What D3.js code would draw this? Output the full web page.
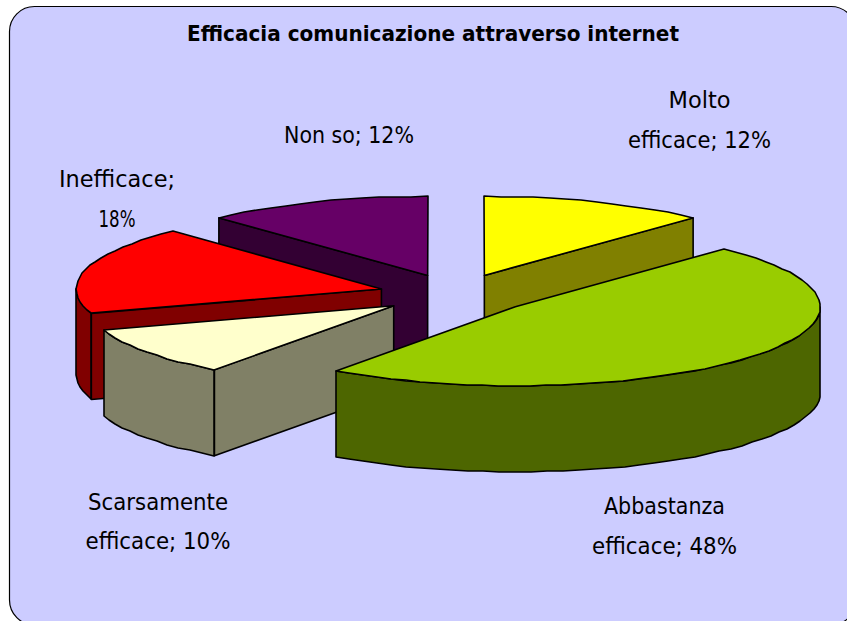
<!DOCTYPE html>
<html><head><meta charset="utf-8">
<style>html,body{margin:0;padding:0;background:#fff;overflow:hidden}svg{display:block}</style>
<script src="https://cdn.jsdelivr.net/npm/d3@7/dist/d3.min.js"></script>
</head><body><div id="c"></div>
<script>
const title = "Efficacia comunicazione attraverso internet";
const categories = ["Molto efficace","Abbastanza efficace","Scarsamente efficace","Inefficace","Non so"];
const values = [12,48,10,18,12];
const colors = ["#FFFF00","#99CC00","#FFFFCC","#FF0000","#660066"];
const labelLines = [["Molto","efficace; 12%"],["Abbastanza","efficace; 48%"],["Scarsamente","efficace; 10%"],["Inefficace;","18%"],["Non so; 12%"]];
const drawOrder = [4,0,3,2,1];

const W=847,H=621;
const svg=d3.select("#c").append("svg").attr("width",W).attr("height",H);
svg.append("path")
  .attr("d","M9.5,31.5 A25,25 0 0 1 34.5,6.5 L831,6.5 A25,25 0 0 1 856,31.5 L856,600 A25,25 0 0 1 831,625 L34.5,625 A25,25 0 0 1 9.5,600 Z")
  .attr("fill","#CCCCFF").attr("stroke","#000").attr("stroke-width",1.2);

const font="'DejaVu Sans Condensed','DejaVu Sans',Verdana,sans-serif";
svg.append("text").attr("x",433).attr("y",41).attr("text-anchor","middle")
  .attr("font-family",font).attr("font-weight","bold").attr("font-size",21).attr("font-stretch","condensed")
  .attr("textLength",492).attr("lengthAdjust","spacingAndGlyphs").text(title);

// pie geometry
const pie=d3.pie().sort(null).value(d=>d)(values);
const rx=305, ry=79, depth=86, cx0=456, cy0=294, ex=77, ey=20;
const deg=Math.PI/180;
const line=d3.line();
function arcPts(c,a0,a1){
  const n=Math.max(1,Math.round((a1-a0)/(3*deg))), pts=[];
  for(let i=0;i<=n;i++){
    const a=a0+(a1-a0)*i/n;
    pts.push([Math.round(c[0]+rx*Math.sin(a)),Math.round(c[1]-ry*Math.cos(a))]);
  }
  return pts;
}
const down=p=>[p[0],p[1]+depth];
function wall(top){return line(top.concat(top.slice().reverse().map(down)))+"Z";}
const shade=c=>{const r=d3.rgb(c);return d3.rgb(r.r/2,r.g/2,r.b/2).formatHex();};

drawOrder.forEach(i=>{
  const s=pie[i], mid=(s.startAngle+s.endAngle)/2;
  const c=[cx0+ex*Math.sin(mid), cy0-ey*Math.cos(mid)];
  const g=svg.append("g").attr("stroke","#000").attr("stroke-width",1.6).attr("stroke-linejoin","round");
  const dark=shade(colors[i]);
  const P=a=>[c[0]+rx*Math.sin(a),c[1]-ry*Math.cos(a)];
  // straight cut walls: visible only when the slice lies above its radial edge
  if(s.startAngle>=Math.PI) g.append("path").attr("d",wall([c,P(s.startAngle)])).attr("fill",dark);
  if(s.endAngle<=Math.PI) g.append("path").attr("d",wall([c,P(s.endAngle)])).attr("fill",dark);
  // outer curved wall on the front half
  const f0=Math.max(s.startAngle,90*deg), f1=Math.min(s.endAngle,270*deg);
  if(f1>f0) g.append("path").attr("d",wall(arcPts(c,f0,f1))).attr("fill",dark);
  // top face
  g.append("path").attr("d",line([c].concat(arcPts(c,s.startAngle,s.endAngle)))+"Z").attr("fill",colors[i]);
});

// labels: [centre x, baselines, widths]
const labelPos=[[699.5,[108,148],[62,143]],[664.5,[514,554],[121,145]],[158,[510,549],[140,145]],[117,[187,227],[116,37]],[349,[143],[130]]];
labelLines.forEach((ls,i)=>{
  ls.forEach((t,j)=>{
    svg.append("text").attr("x",labelPos[i][0]).attr("y",labelPos[i][1][j]).attr("text-anchor","middle")
      .attr("font-family",font).attr("font-size",23).attr("font-stretch","condensed")
      .attr("textLength",labelPos[i][2][j]).attr("lengthAdjust","spacingAndGlyphs").text(t);
  });
});
</script></body></html>
